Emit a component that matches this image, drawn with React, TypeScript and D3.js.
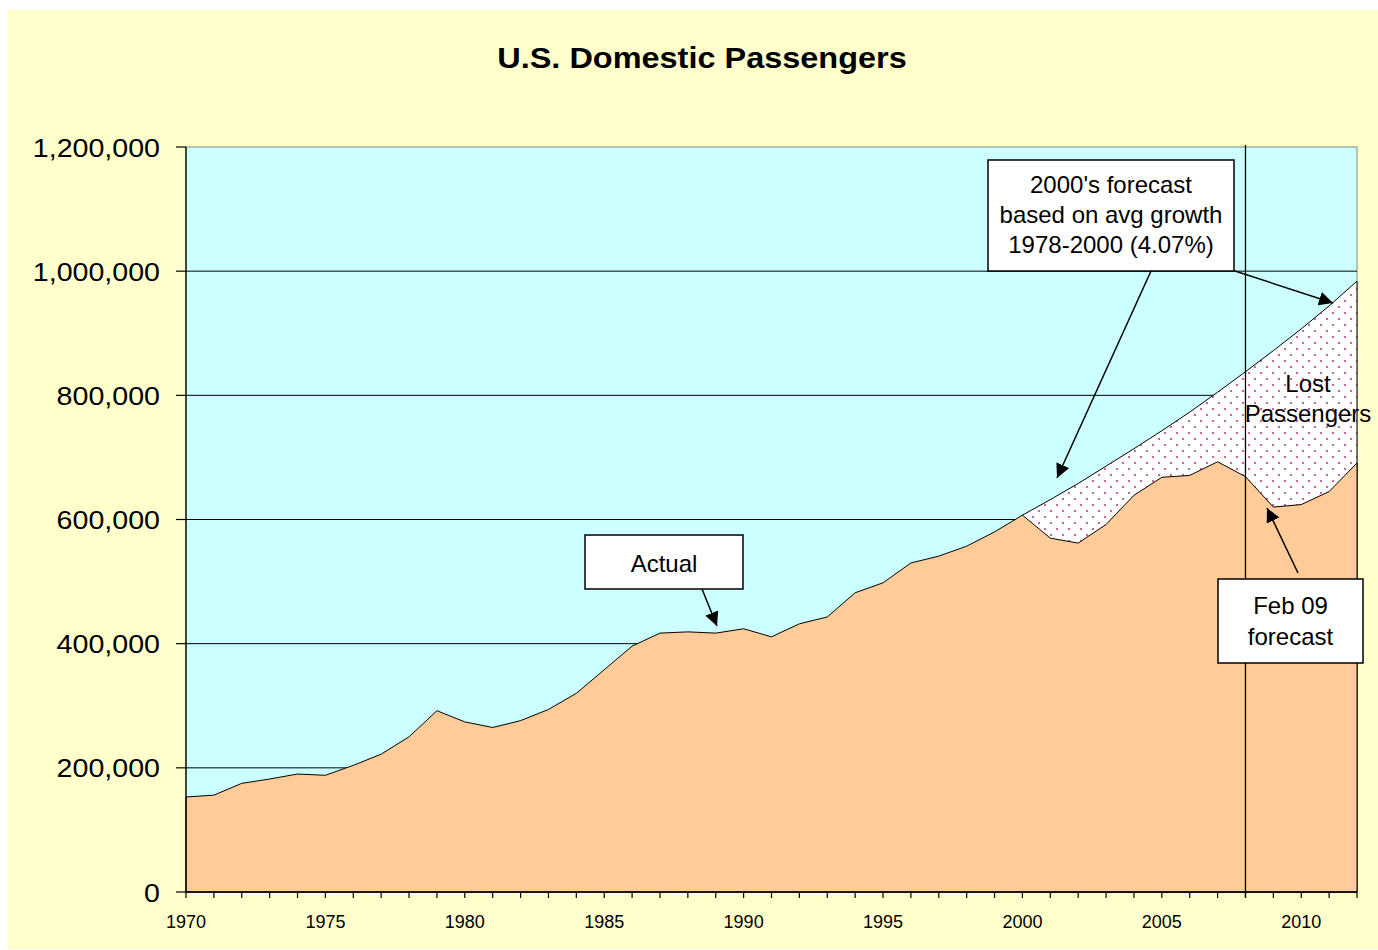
import React from "react";
import * as d3 from "d3";

const years: number[] = d3.range(1970, 2013);
const actual: number[] = [
  153, 156, 175, 182, 190, 188, 204, 222, 250, 292,
  274, 265, 276, 294, 320, 358, 396, 417, 419, 417,
  424, 411, 432, 443, 482, 498, 530, 541, 557, 580,
  607, 570, 562, 592, 639, 668, 671, 693, 669, 620,
  624, 645, 691,
].map((v) => v * 1000);
const forecastYears: number[] = d3.range(2000, 2013);
const forecast: number[] = [
  607, 632, 658, 686, 714, 743, 773, 805, 838, 872, 907, 944, 984,
].map((v) => v * 1000);
const yTicks: number[] = [0, 200000, 400000, 600000, 800000, 1000000, 1200000];
const xLabelYears: number[] = [1970, 1975, 1980, 1985, 1990, 1995, 2000, 2005, 2010];
const title = "U.S. Domestic Passengers";
const forecastNote = ["2000's forecast", "based on avg growth", "1978-2000 (4.07%)"];
const actualNote = ["Actual"];
const febNote = ["Feb 09", "forecast"];
const lostNote = ["Lost", "Passengers"];
const splitYear = 2008;

export default function App() {
  const x = d3.scaleLinear().domain([1970, 2012]).range([186, 1357]);
  const y = d3.scaleLinear().domain([0, 1200000]).range([892, 147]);

  const actualArea = d3
    .area<number>()
    .x((_, i) => x(years[i]))
    .y0(y(0))
    .y1((d) => y(d))(actual) as string;
  const forecastArea = d3
    .area<number>()
    .x((_, i) => x(forecastYears[i]))
    .y0(y(0))
    .y1((d) => y(d))(forecast) as string;

  const font = "'Liberation Sans', Arial, sans-serif";
  const plotL = x(1970), plotR = x(2012), plotT = y(1200000), plotB = y(0);

  const box = (x0: number, y0: number, x1: number, y1: number, lines: string[], base: number, gap: number) => (
    <g>
      <rect x={x0} y={y0} width={x1 - x0} height={y1 - y0} fill="#fff" stroke="#000" strokeWidth={1.5} />
      {lines.map((t, i) => (
        <text key={i} x={(x0 + x1) / 2} y={base + i * gap} textAnchor="middle" fontSize={24} fontFamily={font} fill="#000">
          {t}
        </text>
      ))}
    </g>
  );

  return (
    <svg width={1378} height={950} style={{ position: "absolute", left: 0, top: 0, display: "block" }}>
      <defs>
        <pattern id="dots" width={12} height={12} patternUnits="userSpaceOnUse">
          <rect width={12} height={12} fill="#fff" />
          <rect x={0} y={0} width={2} height={2} fill="#cc6699" />
          <rect x={6} y={6} width={2} height={2} fill="#cc6699" />
        </pattern>
        <marker id="arr" viewBox="0 0 10 10" refX={10} refY={5} markerWidth={14} markerHeight={14} markerUnits="userSpaceOnUse" orient="auto">
          <path d="M0,0 L10,5 L0,10 z" fill="#000" />
        </marker>
      </defs>
      <rect x={0} y={0} width={1378} height={950} fill="#fff" />
      <rect x={8} y={10} width={1370} height={939} fill="#FFFFCC" />
      <text transform={`translate(702,68) scale(1.12,1)`} textAnchor="middle" fontSize={29} fontWeight="bold" fontFamily={font} fill="#000">
        {title}
      </text>

      <rect x={plotL} y={plotT} width={plotR - plotL} height={plotB - plotT} fill="#CCFFFF" stroke="#888" strokeWidth={1} />
      {yTicks.filter((t) => t > 0 && t < 1200000).map((t) => (
        <line key={t} x1={plotL} x2={plotR} y1={y(t)} y2={y(t)} stroke="#000" strokeWidth={1} />
      ))}

      <path d={forecastArea} fill="url(#dots)" stroke="#000" strokeWidth={1} />
      <path d={actualArea} fill="#FFCC99" stroke="#000" strokeWidth={1} />

      <line x1={x(splitYear)} x2={x(splitYear)} y1={145} y2={898} stroke="#000" strokeWidth={1.3} />

      <line x1={plotL} x2={plotL} y1={plotT} y2={plotB} stroke="#000" strokeWidth={1.3} />
      <line x1={plotL} x2={plotR} y1={plotB} y2={plotB} stroke="#000" strokeWidth={1.3} />
      {yTicks.map((t) => (
        <g key={t}>
          <line x1={176} x2={plotL} y1={y(t)} y2={y(t)} stroke="#000" strokeWidth={1.2} />
          <text transform={`translate(160,${y(t) + 9.5}) scale(1.1,1)`} textAnchor="end" fontSize={26} fontFamily={font} fill="#000">
            {d3.format(",")(t)}
          </text>
        </g>
      ))}
      {years.map((yr) => (
        <line key={yr} x1={x(yr)} x2={x(yr)} y1={plotB} y2={898} stroke="#000" strokeWidth={1.2} />
      ))}
      {xLabelYears.map((yr) => (
        <text key={yr} x={x(yr)} y={928} textAnchor="middle" fontSize={18} fontFamily={font} fill="#000">
          {yr}
        </text>
      ))}

      {box(988, 160, 1234, 271, forecastNote, 193, 30)}
      <line x1={1151} y1={271} x2={1057} y2={478} stroke="#000" strokeWidth={1.5} markerEnd="url(#arr)" />
      <line x1={1235} y1={271} x2={1333} y2={303} stroke="#000" strokeWidth={1.5} markerEnd="url(#arr)" />

      {box(585, 535, 743, 589, actualNote, 572, 30)}
      <line x1={702} y1={589} x2={717} y2={626} stroke="#000" strokeWidth={1.5} markerEnd="url(#arr)" />

      {box(1218, 579, 1363, 663, febNote, 614, 31)}
      <line x1={1298} y1={573} x2={1267} y2={508} stroke="#000" strokeWidth={1.5} markerEnd="url(#arr)" />

      {lostNote.map((t, i) => (
        <text key={t} x={1308} y={392 + i * 30} textAnchor="middle" fontSize={24} fontFamily={font} fill="#000">
          {t}
        </text>
      ))}
    </svg>
  );
}
